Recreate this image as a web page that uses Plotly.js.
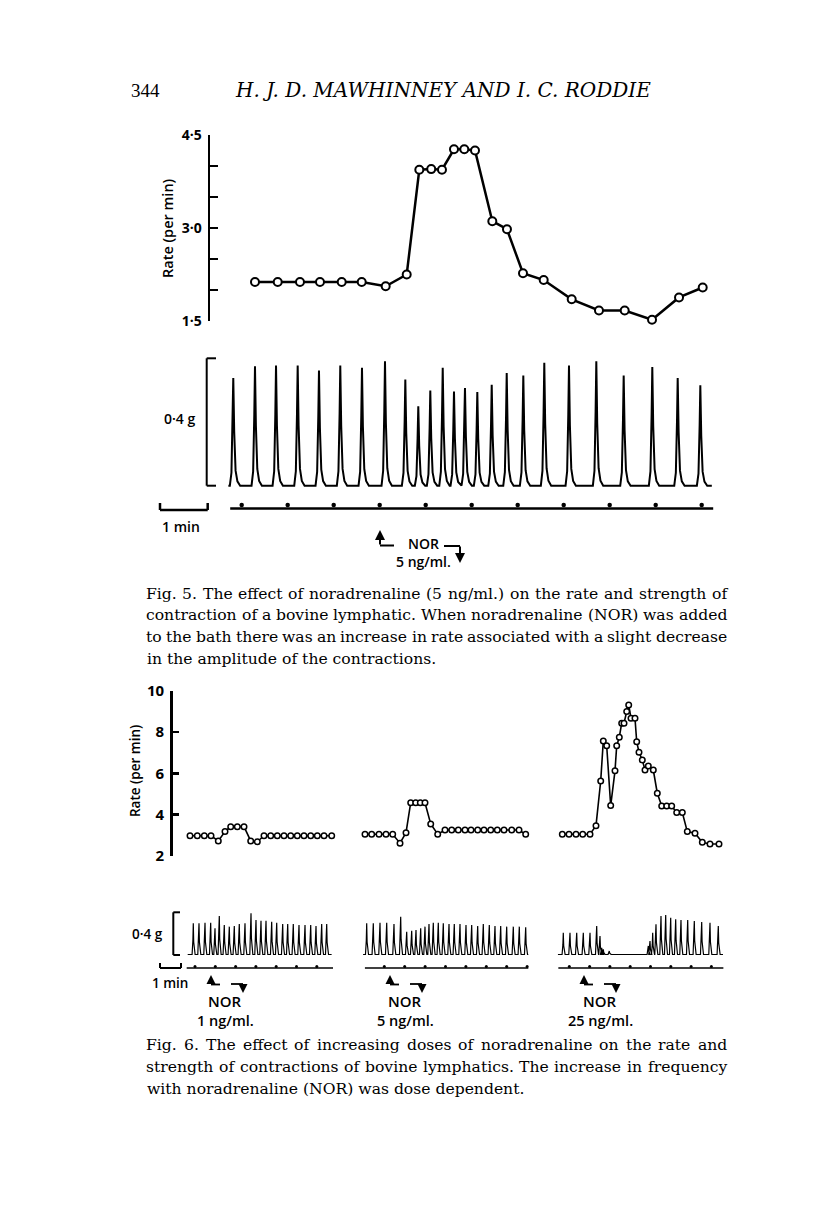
<!DOCTYPE html>
<html><head><meta charset="utf-8">
<script src="https://cdn.plot.ly/plotly-3.0.1.min.js"></script>
<style>html,body{margin:0;padding:0;background:#fff}</style>
</head><body><div id="chart" style="width:816px;height:1215px"></div>
<script>
// ================= DATA =================
// ---- Fig. 5 (time in minutes from first time-mark) ----
const fig5RateTimes = [0.289,0.783,1.267,1.702,2.174,2.609,3.130,3.587,3.861,4.120,4.354,4.615,4.839,5.072,5.448,5.767,6.115,6.565,7.174,7.767,8.326,8.920,9.507,10.022];
const fig5Rates     = [2.13,2.13,2.13,2.13,2.13,2.13,2.06,2.25,3.94,3.95,3.94,4.27,4.27,4.25,3.11,2.98,2.27,2.16,1.85,1.67,1.67,1.52,1.88,2.04];
const fig5BeatTimes = [-0.183,0.289,0.746,1.217,1.680,2.143,2.615,3.115,3.557,3.839,4.100,4.370,4.615,4.854,5.122,5.435,5.761,6.122,6.578,7.115,7.709,8.304,8.926,9.478,9.970];
const fig5BeatAmps  = [0.338,0.375,0.377,0.377,0.362,0.377,0.370,0.391,0.333,0.249,0.299,0.370,0.296,0.307,0.294,0.317,0.354,0.346,0.386,0.377,0.391,0.346,0.373,0.338,0.315];
const fig5Record    = [-0.29, 10.22];       // start / end of tension record (min)
const fig5TimeLine  = [-0.25, 10.25];
const fig5Minutes   = [0,1,2,3,4,5,6,7,8,9,10];
const fig5TickVals  = [1.5,2,2.5,3,3.5,4,4.5];
const fig5TickText  = ['1·5','','','3·0','','','4·5'];

// ---- Fig. 6 (three doses) ----
const fig6Doses = ['1 ng/ml.','5 ng/ml.','25 ng/ml.'];
const fig6TickVals = [2,4,6,8,10];
const fig6TickText = ['2','4','6','8','10'];

const rateTimes1 = [-0.246,0.113,0.458,0.788,1.148,1.478,1.759,2.084,2.414,2.744,3.069,3.399,3.729,4.054,4.384,4.714,5.039,5.369,5.700,6.025,6.355,6.734];
const rates1     = [2.98,2.98,2.98,2.98,2.73,3.18,3.42,3.42,3.42,2.73,2.69,2.98,2.98,2.98,2.98,2.98,2.98,2.98,2.98,2.98,2.98,2.98];
const beats1     = [-0.084,0.197,0.493,0.773,0.985,1.197,1.443,1.690,1.936,2.182,2.463,2.759,3.005,3.251,3.498,3.778,4.025,4.320,4.567,4.842,5.123,5.419,5.700,5.961,6.241,6.488];
const amps1      = [0.296,0.296,0.301,0.301,0.248,0.365,0.280,0.264,0.270,0.289,0.296,0.391,0.327,0.320,0.320,0.311,0.301,0.289,0.289,0.289,0.280,0.280,0.280,0.270,0.289,0.289];

const rateTimes2 = [-0.946,-0.618,-0.260,0.083,0.412,0.770,1.064,1.294,1.539,1.765,1.995,2.275,2.618,2.975,3.304,3.627,3.956,4.250,4.578,4.887,5.216,5.539,5.868,6.245,6.603,6.931];
const rates2     = [3.05,3.05,3.05,3.05,3.05,2.62,3.13,4.58,4.58,4.58,4.58,3.55,3.05,3.26,3.26,3.26,3.26,3.26,3.26,3.26,3.26,3.26,3.26,3.26,3.26,3.05];
const beats2     = [-0.863,-0.539,-0.211,0.118,0.475,0.804,1.098,1.343,1.554,1.784,1.995,2.191,2.402,2.647,2.892,3.172,3.431,3.711,4.005,4.284,4.578,4.853,5.147,5.426,5.706,6.000,6.324,6.618,6.931];
const amps2      = [0.296,0.296,0.301,0.301,0.289,0.358,0.216,0.226,0.232,0.248,0.264,0.289,0.301,0.301,0.296,0.289,0.289,0.289,0.280,0.280,0.270,0.289,0.280,0.270,0.270,0.264,0.264,0.264,0.258];

const rateTimes3 = [-0.345,-0.015,0.330,0.660,1.020,1.315,1.547,1.675,1.842,2.039,2.251,2.335,2.463,2.581,2.695,2.828,2.926,3.039,3.236,3.320,3.433,3.596,3.729,3.892,4.138,4.335,4.552,4.798,5.044,5.291,5.567,5.813,6.192,6.552,6.931,7.374];
const rates3     = [3.05,3.05,3.05,3.05,3.05,3.47,5.63,7.57,7.34,4.44,6.12,7.34,7.75,8.43,8.43,8.99,9.31,8.67,8.67,7.53,7.02,6.65,6.16,6.36,6.16,5.04,4.42,4.42,4.42,4.10,4.10,3.18,3.10,2.66,2.58,2.58];
const beats3     = [-0.296,0.034,0.365,0.690,1.020,1.350,1.512,1.596,1.675,1.970,3.892,3.975,4.108,4.271,4.517,4.749,4.995,5.241,5.502,5.833,6.158,6.522,6.931,7.340];
const amps3      = [0.207,0.207,0.207,0.207,0.207,0.270,0.175,0.064,0.049,0.033,0.081,0.128,0.207,0.286,0.365,0.374,0.349,0.334,0.327,0.327,0.318,0.308,0.301,0.270];

const fig6Records  = [[-0.36,6.73],[-1.04,7.06],[-0.56,7.57]];
const fig6TimeLine = [[-0.41,6.80],[-0.95,7.06],[-0.54,7.59]];
const fig6Minutes  = [[0,1,2,3,4,5,6],[0,1,2,3,4,5,6,7],[0,1,2,3,4,5,6,7]];

// ---- Text ----
const headerPage  = '344';
const headerTitle = 'H. J. D. MAWHINNEY AND I. C. RODDIE';
const caption5 = ['Fig. 5. The effect of noradrenaline (5 ng/ml.) on the rate and strength of',
  'contraction of a bovine lymphatic. When noradrenaline (NOR) was added',
  'to the bath there was an increase in rate associated with a slight decrease',
  'in the amplitude of the contractions.'];
const caption6 = ['Fig. 6. The effect of increasing doses of noradrenaline on the rate and',
  'strength of contractions of bovine lymphatics. The increase in frequency',
  'with noradrenaline (NOR) was dose dependent.'];

// ================= LAYOUT HELPERS =================
const W = 816, H = 1215;
const PX = v => v / W;
const PY = v => 1 - v / H;
const m5 = p => (p - 241.7) / 46;           // fig5 px -> minutes
const g5 = p => (485.7 - p) * 0.4 / 127.4;  // fig5 px -> grams
const m6 = [p => (p - 195) / 20.3, p => (p - 384.3) / 20.4, p => (p - 569.3) / 20.3];
const g6 = p => (954.5 - p) * 0.4 / 42.2;

const shape5 = {dt:[-0.075,-0.04,-0.015,0,0.02,0.05,0.09,0.15], rel:[0,0.12,0.6,1,0.5,0.14,0.04,0]};
const shape6 = {dt:[-0.06,-0.02,0,0.02,0.05,0.09], rel:[0,0.45,1,0.4,0.08,0]};
function record(span, times, amps, sh) {
  const x = [span[0]], y = [0];
  times.forEach((t, i) => sh.dt.forEach((d, j) => { x.push(t + d); y.push(amps[i] * sh.rel[j]); }));
  x.push(span[1]); y.push(0);
  return {x, y};
}

const traces = [];
traces.push({x: fig5RateTimes, y: fig5Rates, xaxis:'x', yaxis:'y', mode:'lines+markers', cliponaxis:false,
  line:{color:'#000', width:2.5}, marker:{symbol:'circle', size:8, color:'#fff', line:{color:'#000', width:2}}});
const r5 = record(fig5Record, fig5BeatTimes, fig5BeatAmps, shape5);
traces.push({x: r5.x, y: r5.y, xaxis:'x', yaxis:'y2', mode:'lines', line:{color:'#000', width:2}});
traces.push({x: fig5TimeLine, y: [g5(508.5), g5(508.5)], xaxis:'x', yaxis:'y2', mode:'lines', line:{color:'#000', width:2.6}});
traces.push({x: fig5Minutes, y: fig5Minutes.map(() => g5(505)), xaxis:'x', yaxis:'y2', mode:'markers', cliponaxis:false,
  marker:{size:4.5, color:'#000'}});

const rt = [rateTimes1, rateTimes2, rateTimes3], rv = [rates1, rates2, rates3];
const bt = [beats1, beats2, beats3], ba = [amps1, amps2, amps3];
const xa = ['x3','x4','x5'];
for (let k = 0; k < 3; k++) {
  traces.push({x: rt[k], y: rv[k], xaxis: xa[k], yaxis:'y3', mode:'lines+markers', cliponaxis:false,
    line:{color:'#000', width:1.6}, marker:{symbol:'circle', size:5.5, color:'#fff', line:{color:'#000', width:1.5}}});
  const r = record(fig6Records[k], bt[k], ba[k], shape6);
  traces.push({x: r.x, y: r.y, xaxis: xa[k], yaxis:'y4', mode:'lines', line:{color:'#000', width:1.2}});
  traces.push({x: fig6TimeLine[k], y: [g6(968), g6(968)], xaxis: xa[k], yaxis:'y4', mode:'lines', line:{color:'#000', width:1.5}});
  traces.push({x: fig6Minutes[k], y: fig6Minutes[k].map(() => g6(966.5)), xaxis: xa[k], yaxis:'y4', mode:'markers', cliponaxis:false,
    marker:{size:3, color:'#000'}});
}

const SANS = 'Open Sans, Liberation Sans, sans-serif';
const sansF = (s, w) => ({family:SANS, size:s, color:'#000', weight:w || 600});
const CAPFONT = 'DejaVu Serif';
const CAPSIZE = 15.6;
const serifF = s => ({family:CAPFONT + ', serif', size:s, color:'#000'});

const hidden = {visible:false, showgrid:false, zeroline:false, fixedrange:true};
const layout = {
  width: W, height: H, margin:{l:0, r:0, t:0, b:0}, showlegend:false,
  paper_bgcolor:'#fff', plot_bgcolor:'rgba(0,0,0,0)',
  xaxis: Object.assign({domain:[PX(210), PX(720)], range:[m5(210), m5(720)], anchor:'y'}, hidden),
  yaxis: {domain:[PY(321), PY(135)], range:[1.5, 4.5], anchor:'x', showline:true, linewidth:2.5, linecolor:'#000',
    ticks:'inside', ticklen:8, tickwidth:2.5, tickcolor:'#000', tickvals: fig5TickVals, ticktext: fig5TickText,
    showgrid:false, zeroline:false, tickfont: sansF(14, 700), ticklabelstandoff: 3},
  yaxis2: Object.assign({domain:[PY(512), PY(358.3)], range:[g5(512), 0.4], anchor:'x'}, hidden),
  xaxis3: Object.assign({domain:[PX(172.7), PX(340)], range:[m6[0](172.7), m6[0](340)], anchor:'y3'}, hidden),
  xaxis4: Object.assign({domain:[PX(355), PX(535)], range:[m6[1](355), m6[1](535)], anchor:'y3'}, hidden),
  xaxis5: Object.assign({domain:[PX(550), PX(730)], range:[m6[2](550), m6[2](730)], anchor:'y3'}, hidden),
  yaxis3: {domain:[PY(856), PY(690.7)], range:[2, 10], anchor:'x3', showline:true, linewidth:2.5, linecolor:'#000',
    ticks:'inside', ticklen:6, tickwidth:2.5, tickcolor:'#000', tickvals: fig6TickVals, ticktext: fig6TickText,
    showgrid:false, zeroline:false, tickfont: sansF(15, 700), ticklabelstandoff: 3},
  yaxis4: Object.assign({domain:[PY(975), PY(912.3)], range:[g6(975), 0.4], anchor:'x3'}, hidden),
  shapes: [], annotations: []
};

function seg(x0, y0, x1, y1, w) {
  layout.shapes.push({type:'line', xref:'paper', yref:'paper', x0:PX(x0), y0:PY(y0), x1:PX(x1), y1:PY(y1),
    line:{color:'#000', width:w}});
}
function txt(text, x, y, font, opts) {
  layout.annotations.push(Object.assign({text, x:PX(x), y:PY(y), xref:'paper', yref:'paper', showarrow:false,
    font, xanchor:'center', yanchor:'middle'}, opts || {}));
}
function arrow(x, y, ax, ay, w) {
  layout.annotations.push({text:'', x:PX(x), y:PY(y), xref:'paper', yref:'paper', showarrow:true, ax, ay,
    arrowhead:2, arrowsize:1, arrowwidth:w, arrowcolor:'#000', standoff:0, startstandoff:0});
}
// justified paragraph lines (words spread to fill the measure), last line left-set
const ctx = document.createElement('canvas').getContext('2d');
function paragraph(lines, x0, x1, ys) {
  ctx.font = CAPSIZE + 'px "' + CAPFONT + '"';
  lines.forEach((line, i) => {
    if (i === lines.length - 1) { txt(line, x0, ys[i], serifF(CAPSIZE), {xanchor:'left'}); return; }
    const words = line.split(' ');
    const ws = words.map(w => ctx.measureText(w).width);
    const total = ws.reduce((a, b) => a + b, 0);
    const gap = (x1 - x0 - total) / (words.length - 1);
    let x = x0;
    words.forEach((w, j) => { txt(w, x, ys[i], serifF(CAPSIZE), {xanchor:'left', borderpad:0}); x += ws[j] + gap; });
  });
}

// Header
txt(headerPage, 129, 90, {family:'Liberation Serif, serif', size:19, color:'#000'}, {xanchor:'left'});
txt(headerTitle, 233, 90, {family:'DejaVu Serif, serif', size:20, color:'#000', style:'italic'}, {xanchor:'left'});

// Fig 5 decorations
txt('Rate (per min)', 167, 228, sansF(14.5), {textangle:-90});
seg(206.7, 358.3, 206.7, 485.7, 2); seg(206.7, 358.3, 216, 358.3, 2); seg(206.7, 485.7, 216, 485.7, 2);
txt('0·4 g', 179, 418, sansF(14));
seg(160, 510, 207.7, 510, 2.5); seg(160, 510, 160, 503, 2.5); seg(207.7, 510, 207.7, 503, 2.5);
txt('1 min', 181, 526, sansF(14));
arrow(380, 530, 0, 16, 2); seg(380, 545.5, 394, 545.5, 2);
seg(444, 546, 460, 546, 2); arrow(460, 563, 0, -18, 2);
txt('NOR<br>5 ng/ml.', 423, 552, sansF(14));

paragraph(caption5, 145, 726, [594, 615.5, 637, 658.5]);

// Fig 6 decorations
txt('Rate (per min)', 135, 771, sansF(13.5), {textangle:-90});
seg(173.3, 912.3, 173.3, 955, 2); seg(173.3, 912.3, 180, 912.3, 2); seg(173.3, 955, 180, 955, 2);
txt('0·4 g', 147, 934, sansF(13.5));
seg(160, 968, 181, 968, 2); seg(160, 968, 160, 963, 2); seg(181, 968, 181, 963, 2);
txt('1 min', 170, 983, sansF(13.5));
const upX = [211, 390, 584], dnX = [243, 422, 616], labX = [225, 405, 600];
for (let k = 0; k < 3; k++) {
  arrow(upX[k], 975, 0, 10, 1.8); seg(upX[k], 984.5, upX[k] + 9, 984.5, 1.8);
  seg(dnX[k] - 12, 984, dnX[k], 984, 1.8); arrow(dnX[k], 993, 0, -10, 1.8);
  txt('NOR', labX[k], 1001, sansF(15));
  txt(fig6Doses[k], labX[k], 1020, sansF(14.5));
}

paragraph(caption6, 145, 726, [1045, 1067, 1089]);

Plotly.newPlot('chart', traces, layout, {staticPlot:true, displayModeBar:false});
</script></body></html>
